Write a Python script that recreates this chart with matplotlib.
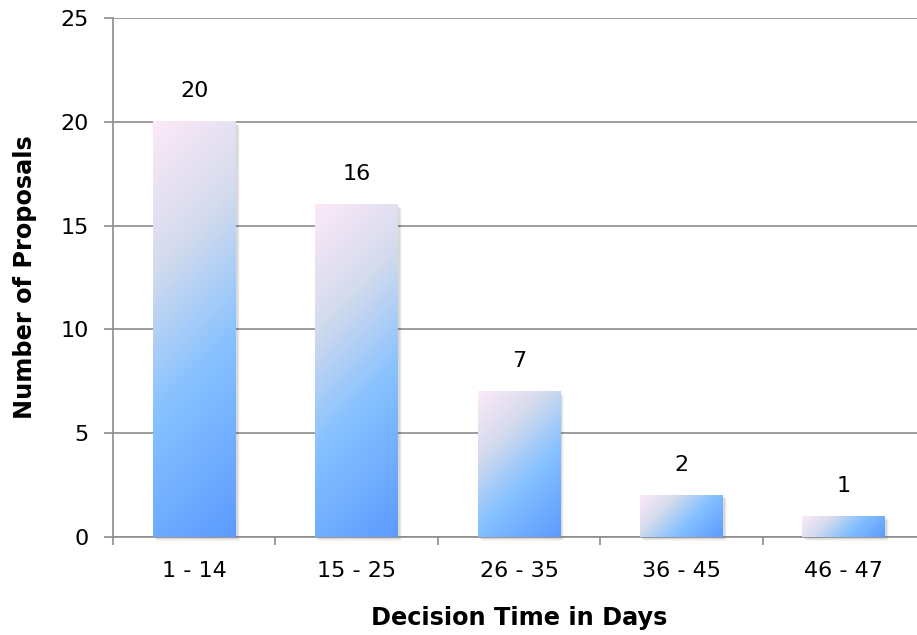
import numpy as np
import matplotlib
matplotlib.use("Agg")
import matplotlib.pyplot as plt
from matplotlib.colors import LinearSegmentedColormap
from matplotlib.patches import Rectangle

categorias = ["1 - 14", "15 - 25", "26 - 35", "36 - 45", "46 - 47"]
propostas = [20, 16, 7, 2, 1]

plt.rcParams['font.family'] = ['DejaVu Sans']

fig = plt.figure(figsize=(9.17, 6.35), dpi=100)
ax = fig.add_axes([113/917, 1 - 537/635, 812/917, 519/635])
ax.set_xlim(0, len(categorias))
ax.set_ylim(0, 25)

cmap = LinearSegmentedColormap.from_list("grad", [
    (0.0, "#fde9f8"), (0.3, "#d3dbed"), (0.6, "#86c1ff"), (1.0, "#5c9bff")])

largura = 0.51
px_x = 812 / len(categorias)
px_y = 519 / 25
for i, v in enumerate(propostas):
    x0 = i + 0.5 - largura / 2
    x1 = i + 0.5 + largura / 2
    w = largura * px_x
    h = v * px_y
    nx, ny = int(w), max(int(h), 2)
    xx, yy = np.meshgrid(np.linspace(0, w, nx), np.linspace(0, h, ny))
    t = (xx + yy) / (w + h)
    # sombra
    for k, a in enumerate([0.08, 0.05, 0.03]):
        dx = (k + 2) / px_x
        dy = (k + 2) / px_y
        ax.add_patch(Rectangle((x0 + dx, -dy), largura, v, color="black",
                               alpha=a, lw=0, zorder=2, clip_on=False))
    ax.add_patch(Rectangle((x0, 0), largura, v, color="white", lw=0, zorder=2.5))
    ax.imshow(t, cmap=cmap, vmin=0, vmax=1, extent=[x0, x1, 0, v],
              origin="upper", aspect="auto", zorder=3, interpolation="bilinear")
    ax.annotate(str(v), (i + 0.5, v), xytext=(0, 22), textcoords="offset points",
                ha="center", va="center", fontsize=16, color="black", zorder=4)

ax.set_yticks(range(0, 26, 5))
ax.yaxis.grid(True, color="#8c8c8c", linewidth=1.2)
ax.set_axisbelow(True)
ax.set_xticks(range(0, len(categorias) + 1))
ax.set_xticklabels([])
ax.set_xticks(np.arange(len(categorias)) + 0.5, minor=True)
ax.set_xticklabels(categorias, minor=True)
ax.tick_params(axis="x", which="minor", length=0, pad=17, labelsize=16)
ax.tick_params(axis="x", which="major", length=6, width=1.2, color="#8c8c8c")
ax.tick_params(axis="y", length=6.5, width=1.2, color="#8c8c8c", pad=11, labelsize=16)

for s in ["top", "right"]:
    ax.spines[s].set_visible(False)
for s in ["left", "bottom"]:
    ax.spines[s].set_color("#8c8c8c")
    ax.spines[s].set_linewidth(1.2)

ax.set_xlabel("Decision Time in Days", fontsize=17.3, fontweight="bold", labelpad=18)
ax.set_ylabel("Number of Proposals", fontsize=17.3, fontweight="bold", labelpad=17)

fig.savefig("out.png", dpi=100)
